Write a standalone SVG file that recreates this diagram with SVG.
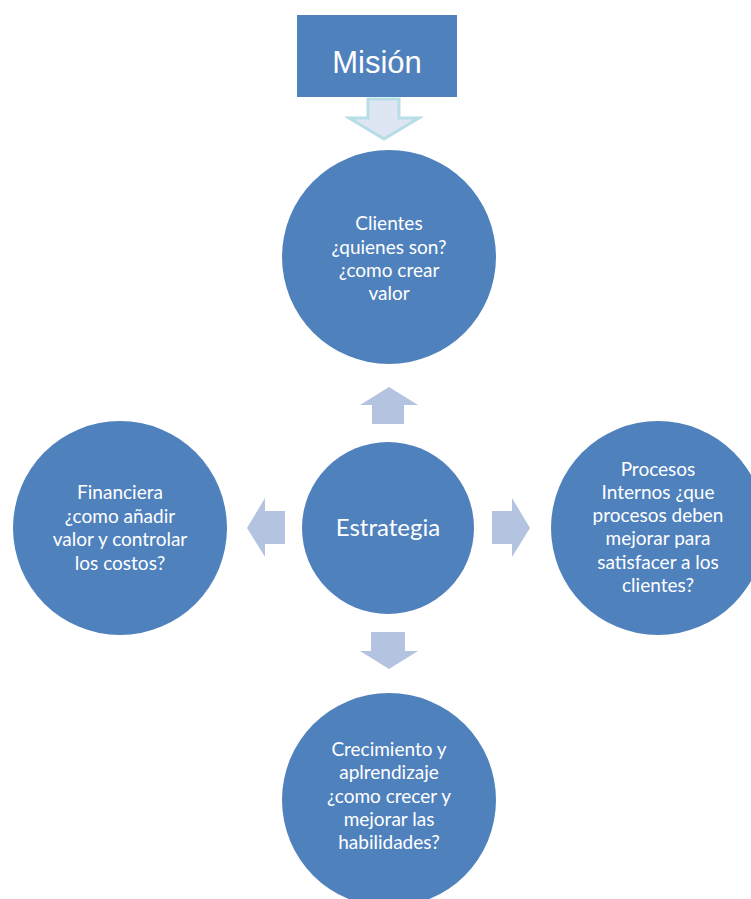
<svg xmlns="http://www.w3.org/2000/svg" width="751" height="899" viewBox="0 0 751 899">
  <style>
    .node { fill: #4f81bd; }
    .arrow { fill: #b3c3e0; }
    .label { font-family: Lato, "Open Sans", "Liberation Sans", sans-serif; font-size: 19px; fill: #ffffff; text-anchor: middle; }
    .big { font-size: 24px; }
    .title { font-family: "Liberation Sans", Arial, sans-serif; font-size: 31px; fill: #ffffff; text-anchor: middle; }
  </style>
  <rect width="751" height="899" fill="#ffffff"/>

  <g id="mision">
    <rect class="node" x="297" y="15" width="160" height="82"/>
    <text class="title" x="377" y="73">Misión</text>
  </g>

  <g id="connectors">
    <!-- Misión down to Clientes -->
    <path d="M368,99 H399 V118 H419 L384,139 L349,118 H368 Z" fill="#dde6f2" stroke="#b7dde8" stroke-width="3" stroke-linejoin="miter"/>
    <!-- up -->
    <path class="arrow" d="M372,424 V405 H360 L389,387 L418,405 H404 V424 Z"/>
    <!-- left -->
    <path class="arrow" d="M285,511 H265 V498 L247,528 L265,557 V544 H285 Z"/>
    <!-- right -->
    <path class="arrow" d="M492,511 H512 V498 L530,528 L512,557 V544 H492 Z"/>
    <!-- down -->
    <path class="arrow" d="M371,632 V651 H360 L389,669 L418,651 H405 V632 Z"/>
  </g>

  <g id="clientes">
    <circle class="node" cx="389" cy="257" r="107"/>
    <text class="label" x="389" y="230">Clientes</text>
    <text class="label" x="389" y="254">¿quienes son?</text>
    <text class="label" x="389" y="277">¿como crear</text>
    <text class="label" x="389" y="300">valor</text>
  </g>

  <g id="estrategia">
    <circle class="node" cx="388" cy="528" r="86"/>
    <text class="label big" x="388" y="536">Estrategia</text>
  </g>

  <g id="financiera">
    <circle class="node" cx="120" cy="528" r="107"/>
    <text class="label" x="120" y="499">Financiera</text>
    <text class="label" x="120" y="523">¿como añadir</text>
    <text class="label" x="120" y="546">valor y controlar</text>
    <text class="label" x="120" y="570">los costos?</text>
  </g>

  <g id="procesos">
    <circle class="node" cx="658" cy="528" r="107"/>
    <text class="label" x="658" y="476">Procesos</text>
    <text class="label" x="658" y="499">Internos ¿que</text>
    <text class="label" x="658" y="522">procesos deben</text>
    <text class="label" x="658" y="545">mejorar para</text>
    <text class="label" x="658" y="569">satisfacer a los</text>
    <text class="label" x="658" y="592">clientes?</text>
  </g>

  <g id="crecimiento">
    <circle class="node" cx="389" cy="800" r="107"/>
    <text class="label" x="389" y="756">Crecimiento y</text>
    <text class="label" x="389" y="779">aplrendizaje</text>
    <text class="label" x="389" y="803">¿como crecer y</text>
    <text class="label" x="389" y="826">mejorar las</text>
    <text class="label" x="389" y="849">habilidades?</text>
  </g>
</svg>
